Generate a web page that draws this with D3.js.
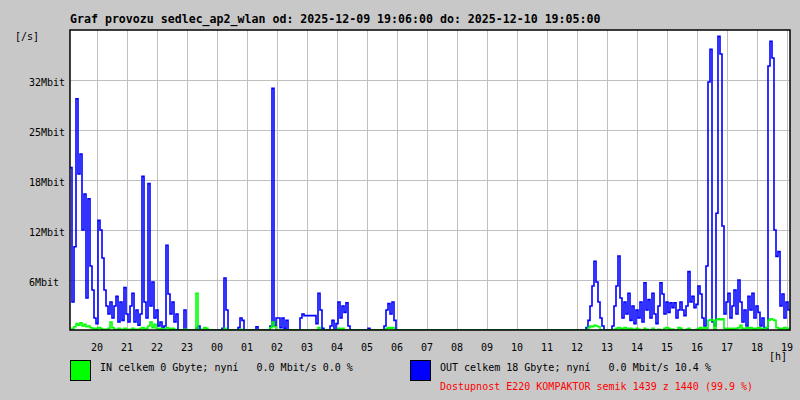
<!DOCTYPE html>
<html>
<head>
<meta charset="utf-8">
<script src="https://cdn.jsdelivr.net/npm/d3@7"></script>
<style>
  html, body { margin: 0; padding: 0; background: #c8c8c8; }
  svg { display: block; }
  text { font-family: "DejaVu Sans Mono", "Liberation Mono", monospace; }
</style>
</head>
<body>
<svg id="chart" width="800" height="400"></svg>
<script>
// ---- data ----
const titleText = "Graf provozu sedlec_ap2_wlan od: 2025-12-09 19:06:00 do: 2025-12-10 19:05:00";
const startTime = "2025-12-09T19:06:00Z";
const sampleMinutes = 4;
const spanMinutes = 1440;
const yUnitLabel = "[/s]";
const xUnitLabel = "[h]";
const yTickValues = [6.25, 12.5, 18.75, 25, 31.25];
const yTickLabels = ["6Mbit", "12Mbit", "18Mbit", "25Mbit", "32Mbit"];
const yMax = 37.5;

// OUT (blue), Mbit/s, one value per 4 minutes
const outValues = [
  20.3, 3.5, 10.4, 28.9, 19.5, 22, 12.5, 17, 4, 16.4, 8, 5, 1.5, 0.8,
  13.7, 12.5, 9, 5, 3, 2, 3.5, 1.5, 3, 4.2, 1, 3.5, 1.2, 5.3, 2,
  1, 3, 4.6, 1, 2.5, 0.6, 2, 19.2, 3.5, 1.5, 18.3, 3, 6, 1.5, 2.5,
  0.5, 1, 0.3, 0.5, 10.6, 4.5, 2, 3.5, 1, 2, 0, 0, 0, 2.5, 0,
  0, 0, 0, 0, 0.2, 0.5, 0, 0, 0, 0, 0, 0, 0, 0, 0,
  0, 0, 0.2, 6.5, 2.5, 0, 0, 0, 0, 0, 0.3, 1.5, 1.2, 0, 0,
  0, 0, 0, 0, 0.4, 0, 0, 0, 0, 0, 0, 0.5, 30.2, 0.5, 1.5,
  1.5, 0.3, 1.5, 0.2, 1.2, 0, 0, 0, 0, 0, 0, 1.5, 2, 1.8, 1.8,
  1.8, 1.8, 1.8, 1.8, 0.8, 4.6, 2.5, 0.2, 0, 0, 0, 0.5, 1.2, 0, 0.8,
  3.5, 1.5, 3, 2.2, 3.4, 0.5, 0, 0, 0, 0, 0, 0, 0, 0, 0,
  0.2, 0, 0, 0, 0, 0, 0, 0, 0.5, 2.5, 3.3, 2, 3.5, 1.2, 0,
  0, 0, 0, 0, 0, 0, 0, 0, 0, 0, 0, 0, 0, 0, 0,
  0, 0, 0, 0, 0, 0, 0, 0, 0, 0, 0, 0, 0, 0, 0,
  0, 0, 0, 0, 0, 0, 0, 0, 0, 0, 0, 0, 0, 0, 0,
  0, 0, 0, 0, 0, 0, 0, 0, 0, 0, 0, 0, 0, 0, 0,
  0, 0, 0, 0, 0, 0, 0, 0, 0, 0, 0, 0, 0, 0, 0,
  0, 0, 0, 0, 0, 0, 0, 0, 0, 0, 0, 0, 0, 0, 0,
  0, 0, 0, 0, 0.3, 1.2, 3, 5.5, 8.6, 6, 3.5, 1.5, 0.5, 0, 0,
  0, 0, 0.5, 3, 5.5, 9.25, 4, 1.5, 3.5, 2, 4.6, 1.2, 3, 0.8, 2.5,
  1.5, 3.5, 1, 5.9, 2.5, 3.8, 1.5, 4.6, 2, 0.8, 3, 5.9, 4.5, 2, 3.5,
  2.2, 3.4, 2.8, 3.4, 1.5, 2.5, 3.5, 2.5, 1.8, 3, 7.3, 3.5, 4.2, 2.8, 3.2,
  5.5, 4.5, 1.5, 0.5, 8, 31, 35.1, 1, 0.5, 14.6, 36.7, 34.5, 13, 2, 3.5,
  4.6, 1.5, 3, 5, 2, 6.25, 3.5, 1, 2.5, 0.5, 4.2, 2.5, 4.6, 1.5, 3,
  2.2, 0.5, 1.5, 0.3, 0.2, 33, 36.1, 34, 12.5, 9.2, 9.8, 3, 4.5, 1.5, 3.5, 2.5
];

// IN (green), Mbit/s, one value per 4 minutes
const inValues = [
  0, 0.2, 0.4, 0.8, 0.6, 0.9, 0.5, 0.7, 0.4, 0.5, 0.3, 0.2, 0.1, 0.2,
  0.3, 0.2, 0.1, 0, 0.1, 0.2, 1, 0.3, 0.1, 0, 0.2, 0.1, 0, 0.2, 0.1,
  0, 0.1, 0.2, 0.1, 0, 0.1, 0.2, 0.3, 0.1, 0.2, 0.5, 1, 0.3, 0.7, 0.2,
  0.1, 0.2, 0.1, 0, 0.3, 0.2, 0.1, 0.2, 0.1, 0, 0, 0, 0, 0.1, 0,
  0, 0, 0, 0, 4.6, 0, 0, 0.1, 0.3, 0.2, 0, 0, 0, 0, 0,
  0, 0, 0, 0.2, 0, 0, 0, 0, 0, 0, 0, 0.1, 0, 0, 0,
  0, 0, 0, 0, 0, 0, 0, 0, 0, 0, 0, 0.3, 1, 0.4, 0,
  0, 0, 0, 0, 0, 0, 0, 0, 0, 0, 0, 0, 0, 0, 0,
  0, 0, 0, 0, 0, 0.3, 0, 0, 0, 0, 0, 0, 0, 0, 0,
  0.2, 0.1, 0.2, 0, 0, 0, 0, 0, 0, 0, 0, 0, 0, 0, 0,
  0, 0, 0, 0, 0, 0, 0, 0, 0, 0.2, 0.3, 0.2, 0.3, 0, 0,
  0, 0, 0, 0, 0, 0, 0, 0, 0, 0, 0, 0, 0, 0, 0,
  0, 0, 0, 0, 0, 0, 0, 0, 0, 0, 0, 0, 0, 0, 0,
  0, 0, 0, 0, 0, 0, 0, 0, 0, 0, 0, 0, 0, 0, 0,
  0, 0, 0, 0, 0, 0, 0, 0, 0, 0, 0, 0, 0, 0, 0,
  0, 0, 0, 0, 0, 0, 0, 0, 0, 0, 0, 0, 0, 0, 0,
  0, 0, 0, 0, 0, 0, 0, 0, 0, 0, 0, 0, 0, 0, 0,
  0, 0, 0, 0, 0, 0.3, 0.5, 0.4, 0.6, 0.5, 0.4, 0, 0, 0, 0,
  0, 0, 0, 0.1, 0.2, 0.3, 0.2, 0.1, 0.3, 0.2, 0.1, 0.2, 0.1, 0, 0.2,
  0.1, 0, 0, 0.2, 0.1, 0, 0, 0.2, 0, 0, 0.1, 0, 0, 0.2, 0.3,
  0.2, 0, 0.1, 0, 0, 0.3, 0.2, 0, 0, 0.1, 0.2, 0, 0, 0, 0.1,
  0.2, 0.3, 0.1, 0.3, 0.2, 1.2, 1.3, 1.2, 0.1, 1.3, 1.4, 1.3, 1.4, 0.2, 0.1,
  0.2, 0.1, 0.2, 0.1, 0.2, 0.3, 0.6, 0.2, 0.1, 0.3, 0.2, 0.3, 0.2, 0.1, 0.2,
  0.3, 0.2, 0.1, 0.2, 0.3, 1.2, 1.4, 1.3, 1.2, 0.3, 0.2, 0.1, 0.2, 0.3, 0.1, 0.2
];

const legendItems = [
  { label: "IN celkem 0 Gbyte; nyní   0.0 Mbit/s 0.0 %", color: "#00ff00" },
  { label: "OUT celkem 18 Gbyte; nyní   0.0 Mbit/s 10.4 %", color: "#0000ff" }
];
const availabilityText = "Dostupnost E220 KOMPAKTOR semik 1439 z 1440 (99.9 %)";

// ---- layout ----
const plot = { left: 70, top: 30, right: 790, bottom: 330 };
const svg = d3.select("#chart");

svg.append("rect").attr("x", 0).attr("y", 0).attr("width", 800).attr("height", 400).attr("fill", "#c8c8c8");

const t0 = new Date(startTime);
const t1 = d3.utcMinute.offset(t0, spanMinutes);
const x = d3.scaleUtc().domain([t0, t1]).range([plot.left, plot.right]);
const y = d3.scaleLinear().domain([0, yMax]).range([plot.bottom, plot.top]);

svg.append("rect")
  .attr("x", plot.left).attr("y", plot.top)
  .attr("width", plot.right - plot.left).attr("height", plot.bottom - plot.top)
  .attr("fill", "#ffffff");

// grid
const hours = x.ticks(d3.utcHour.every(1)).filter(d => d > t0 && d < t1);
const grid = svg.append("g").attr("stroke", "#c0c0c0").attr("stroke-width", 1).attr("shape-rendering", "crispEdges");
grid.selectAll("line.v").data(hours).join("line")
  .attr("x1", d => Math.round(x(d)) + 0.5).attr("x2", d => Math.round(x(d)) + 0.5)
  .attr("y1", plot.top).attr("y2", plot.bottom);
grid.selectAll("line.h").data(yTickValues).join("line")
  .attr("x1", plot.left).attr("x2", plot.right)
  .attr("y1", d => Math.round(y(d)) + 0.5).attr("y2", d => Math.round(y(d)) + 0.5);

// series
function toPoints(vals) {
  const pts = vals.map((v, i) => ({ t: d3.utcMinute.offset(t0, i * sampleMinutes), v }));
  pts.push({ t: t1, v: vals[vals.length - 1] });
  return pts;
}
const line = d3.line().x(d => x(d.t)).y(d => y(d.v)).curve(d3.curveStepAfter);

svg.append("clipPath").attr("id", "clip").append("rect")
  .attr("x", plot.left).attr("y", plot.top)
  .attr("width", plot.right - plot.left).attr("height", plot.bottom - plot.top);

const series = svg.append("g").attr("clip-path", "url(#clip)");
series.append("path").datum(toPoints(outValues))
  .attr("d", line).attr("fill", "none").attr("stroke", "#0000ff").attr("stroke-width", 1.6);
series.append("path").datum(toPoints(inValues))
  .attr("d", line).attr("fill", "none").attr("stroke", "#00ff00").attr("stroke-width", 1.6);

// frame
svg.append("rect")
  .attr("x", plot.left).attr("y", plot.top)
  .attr("width", plot.right - plot.left).attr("height", plot.bottom - plot.top)
  .attr("fill", "none").attr("stroke", "#000000").attr("stroke-width", 1.5);

// title
svg.append("text").attr("x", 70).attr("y", 23)
  .attr("font-size", "11.6px").attr("font-weight", "bold").attr("fill", "#000")
  .text(titleText);

// y labels
svg.selectAll("text.ylab").data(yTickValues).join("text")
  .attr("class", "ylab")
  .attr("x", 29).attr("y", d => Math.round(y(d)) + 6)
  .attr("font-size", "10px").attr("fill", "#000")
  .text((d, i) => yTickLabels[i]);
svg.append("text").attr("x", 15).attr("y", 40).attr("font-size", "10px").attr("fill", "#000").text(yUnitLabel);

// x labels
const fmtHour = d3.utcFormat("%H");
svg.selectAll("text.xlab").data(hours).join("text")
  .attr("class", "xlab")
  .attr("x", d => x(d)).attr("y", 351)
  .attr("text-anchor", "middle")
  .attr("font-size", "10px").attr("fill", "#000")
  .text(d => fmtHour(d));
svg.append("text").attr("x", 769).attr("y", 360).attr("font-size", "10px").attr("fill", "#000").text(xUnitLabel);

// legend
const legendX = [70, 410];
legendItems.forEach((item, i) => {
  svg.append("rect")
    .attr("x", legendX[i] + 0.5).attr("y", 360.5).attr("width", 20).attr("height", 20)
    .attr("fill", item.color).attr("stroke", "#000").attr("stroke-width", 1);
  svg.append("text")
    .attr("x", legendX[i] + 30).attr("y", 371)
    .attr("font-size", "10px").attr("fill", "#000")
    .attr("xml:space", "preserve").style("white-space", "pre")
    .text(item.label);
});
svg.append("text")
  .attr("x", 440).attr("y", 390)
  .attr("font-size", "10px").attr("fill", "#ff0000")
  .text(availabilityText);
</script>
</body>
</html>
